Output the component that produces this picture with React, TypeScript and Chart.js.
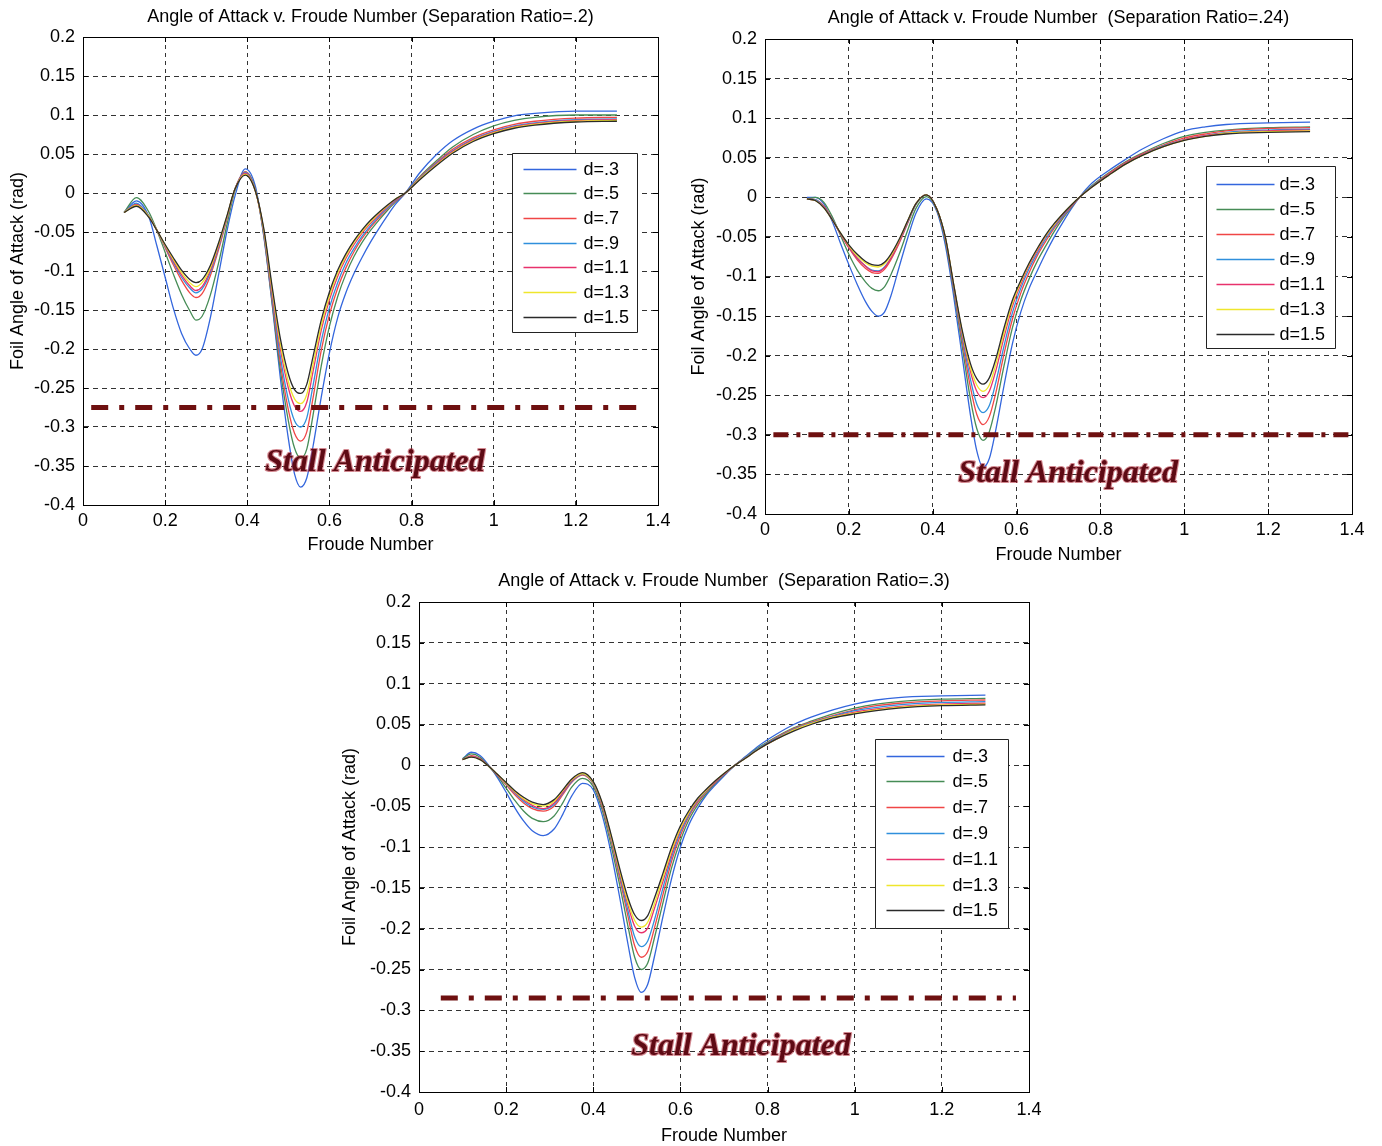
import React, { useEffect, useRef } from "react";
import { Chart, registerables } from "chart.js";

Chart.register(...registerables);

const SANS = "'Liberation Sans', Arial, Helvetica, sans-serif";
const SERIF = "'Liberation Serif', 'Times New Roman', Times, serif";

// ---------- tick labels & categories ----------
const X_TICKS = [0, 0.2, 0.4, 0.6, 0.8, 1.0, 1.2, 1.4];
const Y_TICKS = [-0.4, -0.35, -0.3, -0.25, -0.2, -0.15, -0.1, -0.05, 0, 0.05, 0.1, 0.15, 0.2];
const SERIES_LABELS = ["d=.3", "d=.5", "d=.7", "d=.9", "d=1.1", "d=1.3", "d=1.5"];
const SERIES_COLORS = ["#3366dd", "#468c56", "#f04646", "#2f8fdc", "#e8326c", "#efe62c", "#2a2a2a"];
const STALL_LABEL = "Stall Anticipated";

// ---------- Chart 1: Separation Ratio = .2 ----------
const X1 = [0.10, 0.13, 0.16, 0.18, 0.20, 0.22, 0.24, 0.26, 0.275, 0.29, 0.31, 0.33, 0.35, 0.37, 0.395, 0.42, 0.44, 0.46, 0.48, 0.50, 0.515, 0.53, 0.545, 0.56, 0.58, 0.60, 0.62, 0.64, 0.66, 0.68, 0.70, 0.72, 0.74, 0.76, 0.785, 0.82, 0.86, 0.90, 0.95, 1.00, 1.05, 1.10, 1.20, 1.30];
const S1_D03 = [-0.025, -0.010, -0.030, -0.068, -0.108, -0.148, -0.180, -0.200, -0.208, -0.200, -0.160, -0.105, -0.050, -0.004, 0.031, 0.008, -0.055, -0.140, -0.235, -0.315, -0.360, -0.377, -0.365, -0.325, -0.262, -0.205, -0.160, -0.128, -0.103, -0.082, -0.063, -0.046, -0.030, -0.015, 0.000, 0.026, 0.049, 0.067, 0.082, 0.092, 0.099, 0.102, 0.105, 0.105];
const S1_D05 = [-0.025, -0.006, -0.024, -0.048, -0.076, -0.104, -0.130, -0.151, -0.163, -0.158, -0.131, -0.090, -0.042, 0.003, 0.027, 0.004, -0.053, -0.138, -0.225, -0.292, -0.327, -0.340, -0.328, -0.285, -0.222, -0.171, -0.133, -0.104, -0.081, -0.063, -0.048, -0.035, -0.023, -0.012, 0.000, 0.021, 0.041, 0.059, 0.075, 0.086, 0.093, 0.097, 0.100, 0.100];
const S1_D07 = [-0.025, -0.014, -0.029, -0.048, -0.070, -0.092, -0.112, -0.128, -0.134, -0.129, -0.106, -0.073, -0.034, 0.005, 0.027, 0.003, -0.051, -0.134, -0.216, -0.278, -0.308, -0.318, -0.306, -0.263, -0.202, -0.156, -0.122, -0.096, -0.075, -0.058, -0.044, -0.032, -0.021, -0.011, 0.000, 0.020, 0.039, 0.056, 0.071, 0.081, 0.088, 0.092, 0.096, 0.097];
const S1_D09 = [-0.025, -0.013, -0.029, -0.048, -0.069, -0.089, -0.108, -0.122, -0.128, -0.123, -0.102, -0.070, -0.033, 0.005, 0.026, 0.003, -0.050, -0.130, -0.208, -0.265, -0.292, -0.300, -0.288, -0.247, -0.190, -0.147, -0.115, -0.090, -0.071, -0.055, -0.042, -0.030, -0.020, -0.010, 0.000, 0.019, 0.038, 0.054, 0.069, 0.079, 0.086, 0.090, 0.094, 0.095];
const S1_D11 = [-0.025, -0.015, -0.030, -0.048, -0.068, -0.087, -0.105, -0.119, -0.125, -0.120, -0.099, -0.068, -0.032, 0.005, 0.025, 0.002, -0.048, -0.126, -0.198, -0.250, -0.273, -0.280, -0.268, -0.229, -0.176, -0.137, -0.107, -0.084, -0.066, -0.051, -0.039, -0.028, -0.018, -0.009, 0.000, 0.018, 0.037, 0.053, 0.068, 0.078, 0.085, 0.089, 0.093, 0.094];
const S1_D13 = [-0.025, -0.016, -0.030, -0.048, -0.067, -0.085, -0.102, -0.115, -0.120, -0.115, -0.096, -0.066, -0.031, 0.005, 0.024, 0.002, -0.047, -0.122, -0.192, -0.242, -0.264, -0.270, -0.258, -0.220, -0.170, -0.132, -0.103, -0.081, -0.063, -0.049, -0.037, -0.026, -0.017, -0.008, 0.000, 0.018, 0.036, 0.052, 0.067, 0.077, 0.084, 0.088, 0.092, 0.093];
const S1_D15 = [-0.025, -0.017, -0.031, -0.048, -0.066, -0.083, -0.099, -0.111, -0.115, -0.111, -0.093, -0.064, -0.030, 0.005, 0.023, 0.002, -0.045, -0.118, -0.185, -0.232, -0.252, -0.257, -0.245, -0.210, -0.163, -0.127, -0.099, -0.078, -0.061, -0.047, -0.035, -0.025, -0.016, -0.008, 0.000, 0.017, 0.035, 0.051, 0.066, 0.076, 0.083, 0.087, 0.091, 0.092];
const STALL1_X = [0.02, 1.35];
const STALL1_Y = [-0.275, -0.275];

// ---------- Chart 2: Separation Ratio = .24 ----------
const X2 = [0.10, 0.12, 0.14, 0.16, 0.18, 0.20, 0.22, 0.24, 0.255, 0.27, 0.285, 0.30, 0.32, 0.34, 0.36, 0.385, 0.41, 0.43, 0.45, 0.47, 0.49, 0.505, 0.52, 0.535, 0.55, 0.57, 0.59, 0.61, 0.63, 0.65, 0.67, 0.69, 0.71, 0.73, 0.75, 0.78, 0.82, 0.86, 0.90, 0.95, 1.00, 1.05, 1.10, 1.20, 1.30];
const S2_D03 = [0.000, 0.000, -0.008, -0.030, -0.058, -0.085, -0.110, -0.132, -0.144, -0.150, -0.145, -0.125, -0.088, -0.052, -0.020, -0.002, -0.018, -0.060, -0.125, -0.200, -0.275, -0.320, -0.341, -0.330, -0.295, -0.238, -0.185, -0.145, -0.115, -0.092, -0.070, -0.050, -0.032, -0.015, 0.000, 0.018, 0.034, 0.048, 0.061, 0.074, 0.084, 0.089, 0.092, 0.094, 0.095];
const S2_D05 = [-0.002, 0.000, -0.006, -0.024, -0.048, -0.072, -0.092, -0.107, -0.115, -0.118, -0.113, -0.098, -0.072, -0.042, -0.014, 0.001, -0.016, -0.055, -0.118, -0.187, -0.255, -0.292, -0.307, -0.296, -0.265, -0.213, -0.165, -0.130, -0.103, -0.080, -0.061, -0.043, -0.027, -0.013, 0.000, 0.015, 0.031, 0.045, 0.056, 0.068, 0.077, 0.082, 0.085, 0.088, 0.089];
const S2_D07 = [-0.002, -0.003, -0.011, -0.027, -0.046, -0.064, -0.079, -0.090, -0.095, -0.096, -0.091, -0.079, -0.058, -0.033, -0.009, 0.003, -0.015, -0.052, -0.115, -0.180, -0.240, -0.274, -0.287, -0.277, -0.248, -0.198, -0.154, -0.121, -0.095, -0.073, -0.055, -0.039, -0.025, -0.012, 0.000, 0.014, 0.030, 0.044, 0.055, 0.066, 0.075, 0.080, 0.084, 0.087, 0.088];
const S2_D09 = [-0.002, -0.003, -0.012, -0.027, -0.046, -0.063, -0.077, -0.087, -0.092, -0.093, -0.088, -0.077, -0.056, -0.032, -0.009, 0.003, -0.015, -0.051, -0.113, -0.175, -0.230, -0.261, -0.272, -0.263, -0.235, -0.188, -0.146, -0.115, -0.090, -0.070, -0.052, -0.037, -0.024, -0.011, 0.000, 0.014, 0.029, 0.043, 0.054, 0.065, 0.073, 0.078, 0.082, 0.085, 0.086];
const S2_D11 = [-0.002, -0.004, -0.012, -0.028, -0.046, -0.063, -0.077, -0.087, -0.093, -0.094, -0.089, -0.077, -0.056, -0.031, -0.008, 0.003, -0.015, -0.051, -0.111, -0.171, -0.220, -0.245, -0.253, -0.245, -0.220, -0.177, -0.138, -0.110, -0.086, -0.067, -0.049, -0.035, -0.022, -0.011, 0.000, 0.013, 0.029, 0.043, 0.054, 0.064, 0.073, 0.078, 0.081, 0.084, 0.085];
const S2_D13 = [-0.002, -0.004, -0.013, -0.028, -0.045, -0.061, -0.074, -0.083, -0.087, -0.088, -0.084, -0.074, -0.054, -0.030, -0.008, 0.003, -0.015, -0.050, -0.110, -0.169, -0.215, -0.237, -0.245, -0.237, -0.212, -0.171, -0.134, -0.107, -0.084, -0.065, -0.048, -0.034, -0.021, -0.010, 0.000, 0.013, 0.028, 0.042, 0.053, 0.064, 0.072, 0.077, 0.081, 0.083, 0.084];
const S2_D15 = [-0.002, -0.004, -0.013, -0.028, -0.045, -0.060, -0.072, -0.081, -0.085, -0.086, -0.082, -0.072, -0.053, -0.030, -0.008, 0.003, -0.015, -0.050, -0.110, -0.167, -0.210, -0.229, -0.236, -0.228, -0.205, -0.165, -0.130, -0.105, -0.083, -0.064, -0.047, -0.033, -0.021, -0.010, 0.000, 0.013, 0.028, 0.042, 0.053, 0.064, 0.072, 0.077, 0.080, 0.082, 0.083];
const STALL2_X = [0.02, 1.40];
const STALL2_Y = [-0.300, -0.300];

// ---------- Chart 3: Separation Ratio = .3 ----------
const X3 = [0.10, 0.12, 0.14, 0.16, 0.18, 0.20, 0.22, 0.24, 0.26, 0.285, 0.31, 0.33, 0.35, 0.375, 0.40, 0.42, 0.44, 0.46, 0.48, 0.495, 0.51, 0.525, 0.54, 0.56, 0.58, 0.60, 0.62, 0.64, 0.66, 0.68, 0.70, 0.725, 0.75, 0.78, 0.82, 0.86, 0.90, 0.95, 1.00, 1.05, 1.10, 1.20, 1.30];
const S3_D03 = [0.008, 0.016, 0.012, 0.000, -0.015, -0.033, -0.052, -0.068, -0.080, -0.086, -0.078, -0.060, -0.038, -0.022, -0.030, -0.060, -0.105, -0.160, -0.220, -0.260, -0.278, -0.268, -0.235, -0.185, -0.138, -0.100, -0.072, -0.052, -0.036, -0.024, -0.013, 0.000, 0.011, 0.024, 0.038, 0.050, 0.059, 0.068, 0.075, 0.080, 0.083, 0.085, 0.086];
const S3_D05 = [0.008, 0.014, 0.010, -0.001, -0.013, -0.028, -0.043, -0.056, -0.065, -0.069, -0.062, -0.046, -0.027, -0.016, -0.026, -0.054, -0.096, -0.145, -0.198, -0.235, -0.250, -0.242, -0.212, -0.168, -0.125, -0.092, -0.066, -0.048, -0.034, -0.022, -0.012, 0.000, 0.010, 0.022, 0.035, 0.046, 0.054, 0.063, 0.070, 0.075, 0.078, 0.081, 0.082];
const S3_D07 = [0.007, 0.012, 0.008, -0.001, -0.012, -0.024, -0.036, -0.046, -0.053, -0.056, -0.050, -0.036, -0.021, -0.012, -0.023, -0.050, -0.090, -0.137, -0.186, -0.221, -0.235, -0.228, -0.200, -0.158, -0.117, -0.086, -0.062, -0.045, -0.032, -0.021, -0.011, 0.000, 0.010, 0.021, 0.034, 0.045, 0.053, 0.061, 0.068, 0.073, 0.076, 0.079, 0.080];
const S3_D09 = [0.007, 0.011, 0.008, -0.001, -0.012, -0.023, -0.034, -0.044, -0.051, -0.054, -0.048, -0.034, -0.020, -0.011, -0.022, -0.048, -0.088, -0.133, -0.179, -0.210, -0.222, -0.215, -0.190, -0.150, -0.112, -0.082, -0.060, -0.043, -0.031, -0.020, -0.011, 0.000, 0.010, 0.021, 0.033, 0.044, 0.052, 0.060, 0.067, 0.071, 0.074, 0.077, 0.078];
const S3_D11 = [0.007, 0.011, 0.008, -0.001, -0.012, -0.022, -0.033, -0.042, -0.049, -0.053, -0.046, -0.033, -0.019, -0.010, -0.021, -0.047, -0.086, -0.130, -0.172, -0.197, -0.205, -0.199, -0.176, -0.142, -0.108, -0.079, -0.058, -0.042, -0.030, -0.020, -0.011, 0.000, 0.009, 0.020, 0.032, 0.043, 0.051, 0.059, 0.065, 0.069, 0.072, 0.075, 0.076];
const S3_D13 = [0.007, 0.010, 0.007, -0.001, -0.011, -0.022, -0.032, -0.041, -0.047, -0.050, -0.044, -0.031, -0.018, -0.010, -0.021, -0.046, -0.085, -0.128, -0.168, -0.190, -0.198, -0.192, -0.170, -0.137, -0.104, -0.077, -0.057, -0.041, -0.030, -0.019, -0.010, 0.000, 0.009, 0.020, 0.032, 0.043, 0.051, 0.059, 0.064, 0.068, 0.071, 0.074, 0.075];
const S3_D15 = [0.007, 0.010, 0.007, -0.001, -0.011, -0.021, -0.031, -0.039, -0.045, -0.048, -0.042, -0.030, -0.017, -0.009, -0.020, -0.045, -0.083, -0.125, -0.163, -0.183, -0.190, -0.184, -0.163, -0.132, -0.100, -0.074, -0.055, -0.040, -0.029, -0.019, -0.010, 0.000, 0.009, 0.020, 0.032, 0.042, 0.050, 0.058, 0.063, 0.067, 0.070, 0.073, 0.074];
const STALL3_X = [0.05, 1.37];
const STALL3_Y = [-0.285, -0.285];

// ---------- panels (data) ----------
const PANELS = [
  {
    title: "Angle of Attack v. Froude Number (Separation Ratio=.2)",
    x: X1,
    series: [S1_D03, S1_D05, S1_D07, S1_D09, S1_D11, S1_D13, S1_D15],
    stallX: STALL1_X,
    stallY: STALL1_Y,
  },
  {
    title: "Angle of Attack v. Froude Number  (Separation Ratio=.24)",
    x: X2,
    series: [S2_D03, S2_D05, S2_D07, S2_D09, S2_D11, S2_D13, S2_D15],
    stallX: STALL2_X,
    stallY: STALL2_Y,
  },
  {
    title: "Angle of Attack v. Froude Number  (Separation Ratio=.3)",
    x: X3,
    series: [S3_D03, S3_D05, S3_D07, S3_D09, S3_D11, S3_D13, S3_D15],
    stallX: STALL3_X,
    stallY: STALL3_Y,
  },
];

// ---------- layout (positions, sizes) ----------
const LAYOUTS = [
  {
    left: 0, top: 0, width: 690, height: 560,
    yAxisW: 83, xAxisH: 55, padRight: 32,
    titlePad: { top: 6.2, bottom: 9.2 },
    yTitlePad: 9, xTitlePad: 6, xTickPad: 5.2, yTickPad: 8,
    legend: { x: 1.0446, y: 0.0513, w: 125, h: 179, first: 15, row: 24.7, l0: 11, l1: 64, tx: 71 },
    stallAt: [0.711, -0.346],
    dash: [17, 11, 5, 11],
  },
  {
    left: 690, top: 0, width: 692, height: 570,
    yAxisW: 75, xAxisH: 56, padRight: 30,
    titlePad: { top: 7.2, bottom: 10.2 },
    yTitlePad: 0, xTitlePad: 6, xTickPad: 5.2, yTickPad: 8,
    legend: { x: 1.0518, y: 0.0391, w: 129, h: 182, first: 17, row: 25, l0: 10, l1: 68, tx: 73 },
    stallAt: [0.723, -0.349],
    dash: [15, 8, 4, 8],
  },
  {
    left: 330, top: 565, width: 720, height: 581,
    yAxisW: 89, xAxisH: 54, padRight: 21,
    titlePad: { top: 5.2, bottom: 10.2 },
    yTitlePad: 11, xTitlePad: 1, xTickPad: 7.2, yTickPad: 8,
    legend: { x: 1.0466, y: 0.0318, w: 133, h: 189, first: 16, row: 25.8, l0: 11, l1: 69, tx: 77 },
    stallAt: [0.739, -0.345],
    dash: [17, 11, 5, 11],
  },
];

const FS = 18;

const fmt = (v: any) => String(parseFloat(Number(v).toFixed(2)));

const decorPlugin = {
  id: "decor",
  beforeDatasetsDraw(chart: any) {
    const { ctx, chartArea: a } = chart;
    const xs = chart.scales.x;
    const ys = chart.scales.y;
    ctx.save();
    ctx.setLineDash([]);
    ctx.strokeStyle = "#000";
    ctx.lineWidth = 1;
    ctx.beginPath();
    for (const t of xs.ticks) {
      const px = Math.round(xs.getPixelForValue(t.value)) + 0.5;
      ctx.moveTo(px, a.bottom);
      ctx.lineTo(px, a.bottom - 5);
      ctx.moveTo(px, a.top);
      ctx.lineTo(px, a.top + 5);
    }
    for (const t of ys.ticks) {
      const py = Math.round(ys.getPixelForValue(t.value)) + 0.5;
      ctx.moveTo(a.left, py);
      ctx.lineTo(a.left + 5, py);
      ctx.moveTo(a.right, py);
      ctx.lineTo(a.right - 5, py);
    }
    ctx.stroke();
    ctx.strokeRect(Math.round(a.left) + 0.5, Math.round(a.top) + 0.5, Math.round(a.width), Math.round(a.height));
    ctx.restore();
  },
  afterDatasetsDraw(chart: any, _args: any, opts: any) {
    const { ctx } = chart;
    const xs = chart.scales.x;
    const ys = chart.scales.y;
    ctx.save();
    // stall annotation text
    ctx.font = `italic bold 32px ${SERIF}`;
    ctx.textAlign = "center";
    ctx.textBaseline = "middle";
    const tx = xs.getPixelForValue(opts.stallAt[0]);
    const ty = ys.getPixelForValue(opts.stallAt[1]);
    ctx.lineJoin = "round";
    ctx.lineWidth = 2.2;
    ctx.strokeStyle = "rgba(175,40,55,0.55)";
    ctx.strokeText(STALL_LABEL, tx, ty);
    ctx.fillStyle = "#5e0a14";
    ctx.fillText(STALL_LABEL, tx, ty);
    // legend box
    const lg = opts.legend;
    const lx = Math.round(xs.getPixelForValue(lg.x)) + 0.5;
    const ly = Math.round(ys.getPixelForValue(lg.y)) + 0.5;
    ctx.fillStyle = "#fff";
    ctx.fillRect(lx, ly, lg.w, lg.h);
    ctx.strokeStyle = "#222";
    ctx.lineWidth = 1;
    ctx.strokeRect(lx, ly, lg.w, lg.h);
    ctx.font = `${FS}px ${SANS}`;
    ctx.textAlign = "left";
    ctx.textBaseline = "middle";
    chart.data.datasets.forEach((ds: any, i: number) => {
      if (i >= SERIES_LABELS.length) return;
      const y = Math.round(ly + lg.first + i * lg.row) + 0.5;
      ctx.strokeStyle = ds.borderColor;
      ctx.lineWidth = 1.5;
      ctx.beginPath();
      ctx.moveTo(lx + lg.l0, y);
      ctx.lineTo(lx + lg.l1, y);
      ctx.stroke();
      ctx.fillStyle = "#000";
      ctx.fillText(ds.label, lx + lg.tx, y + 1);
    });
    ctx.restore();
  },
};

function buildConfig(p: any, L: any): any {
  const datasets: any[] = p.series.map((ys: number[], i: number) => ({
    label: SERIES_LABELS[i],
    data: p.x.map((x: number, j: number) => ({ x, y: ys[j] })),
    borderColor: SERIES_COLORS[i],
    backgroundColor: SERIES_COLORS[i],
    borderWidth: 1.3,
    pointRadius: 0,
    fill: false,
    cubicInterpolationMode: "monotone",
    order: -i,
  }));
  datasets.push({
    label: "Stall",
    data: p.stallX.map((x: number, j: number) => ({ x, y: p.stallY[j] })),
    borderColor: "#6e1010",
    borderWidth: 5,
    borderDash: L.dash,
    borderCapStyle: "butt",
    pointRadius: 0,
    fill: false,
    order: -20,
  });
  return {
    type: "line",
    data: { datasets },
    plugins: [decorPlugin],
    options: {
      responsive: false,
      animation: false,
      devicePixelRatio: 1,
      layout: { padding: { left: 0, right: L.padRight, top: 0, bottom: 0 } },
      plugins: {
        legend: { display: false },
        tooltip: { enabled: false },
        title: {
          display: true,
          text: p.title,
          color: "#000",
          fullSize: false,
          font: { family: SANS, size: FS, weight: "normal", lineHeight: 1.2 },
          padding: L.titlePad,
        },
        decor: { legend: L.legend, stallAt: L.stallAt },
      },
      scales: {
        x: {
          type: "linear",
          min: 0,
          max: 1.4,
          afterBuildTicks: (s: any) => {
            s.ticks = X_TICKS.map((v) => ({ value: v }));
          },
          afterFit: (s: any) => {
            s.height = L.xAxisH;
          },
          ticks: {
            color: "#000",
            font: { family: SANS, size: FS },
            padding: L.xTickPad,
            maxRotation: 0,
            autoSkip: false,
            callback: (v: any) => fmt(v),
          },
          grid: { color: "#333", lineWidth: 1, drawTicks: false },
          border: { display: true, color: "#000", dash: [4, 4] },
          title: {
            display: true,
            text: "Froude Number",
            color: "#000",
            font: { family: SANS, size: FS, lineHeight: 1 },
            padding: { top: 0, bottom: L.xTitlePad },
          },
        },
        y: {
          type: "linear",
          min: -0.4,
          max: 0.2,
          afterBuildTicks: (s: any) => {
            s.ticks = Y_TICKS.map((v) => ({ value: v }));
          },
          afterFit: (s: any) => {
            s.width = L.yAxisW;
          },
          ticks: {
            color: "#000",
            font: { family: SANS, size: FS },
            padding: L.yTickPad,
            autoSkip: false,
            callback: (v: any) => fmt(v),
          },
          grid: { color: "#333", lineWidth: 1, drawTicks: false },
          border: { display: true, color: "#000", dash: [5, 4] },
          title: {
            display: true,
            text: "Foil Angle of Attack (rad)",
            color: "#000",
            font: { family: SANS, size: FS, lineHeight: 1 },
            padding: { top: L.yTitlePad, bottom: 0 },
          },
        },
      },
    },
  };
}

function Panel({ p, L }: { p: any; L: any }) {
  const ref = useRef<HTMLCanvasElement | null>(null);
  useEffect(() => {
    if (!ref.current) return;
    const chart = new Chart(ref.current, buildConfig(p, L));
    return () => chart.destroy();
  }, []);
  return (
    <canvas
      ref={ref}
      width={L.width}
      height={L.height}
      style={{ position: "absolute", left: L.left, top: L.top, width: L.width, height: L.height }}
    />
  );
}

export default function App() {
  return (
    <div style={{ position: "absolute", left: 0, top: 0, width: 1382, height: 1146, background: "#fff", overflow: "hidden" }}>
      {PANELS.map((p, i) => (
        <Panel key={i} p={p} L={LAYOUTS[i]} />
      ))}
    </div>
  );
}
